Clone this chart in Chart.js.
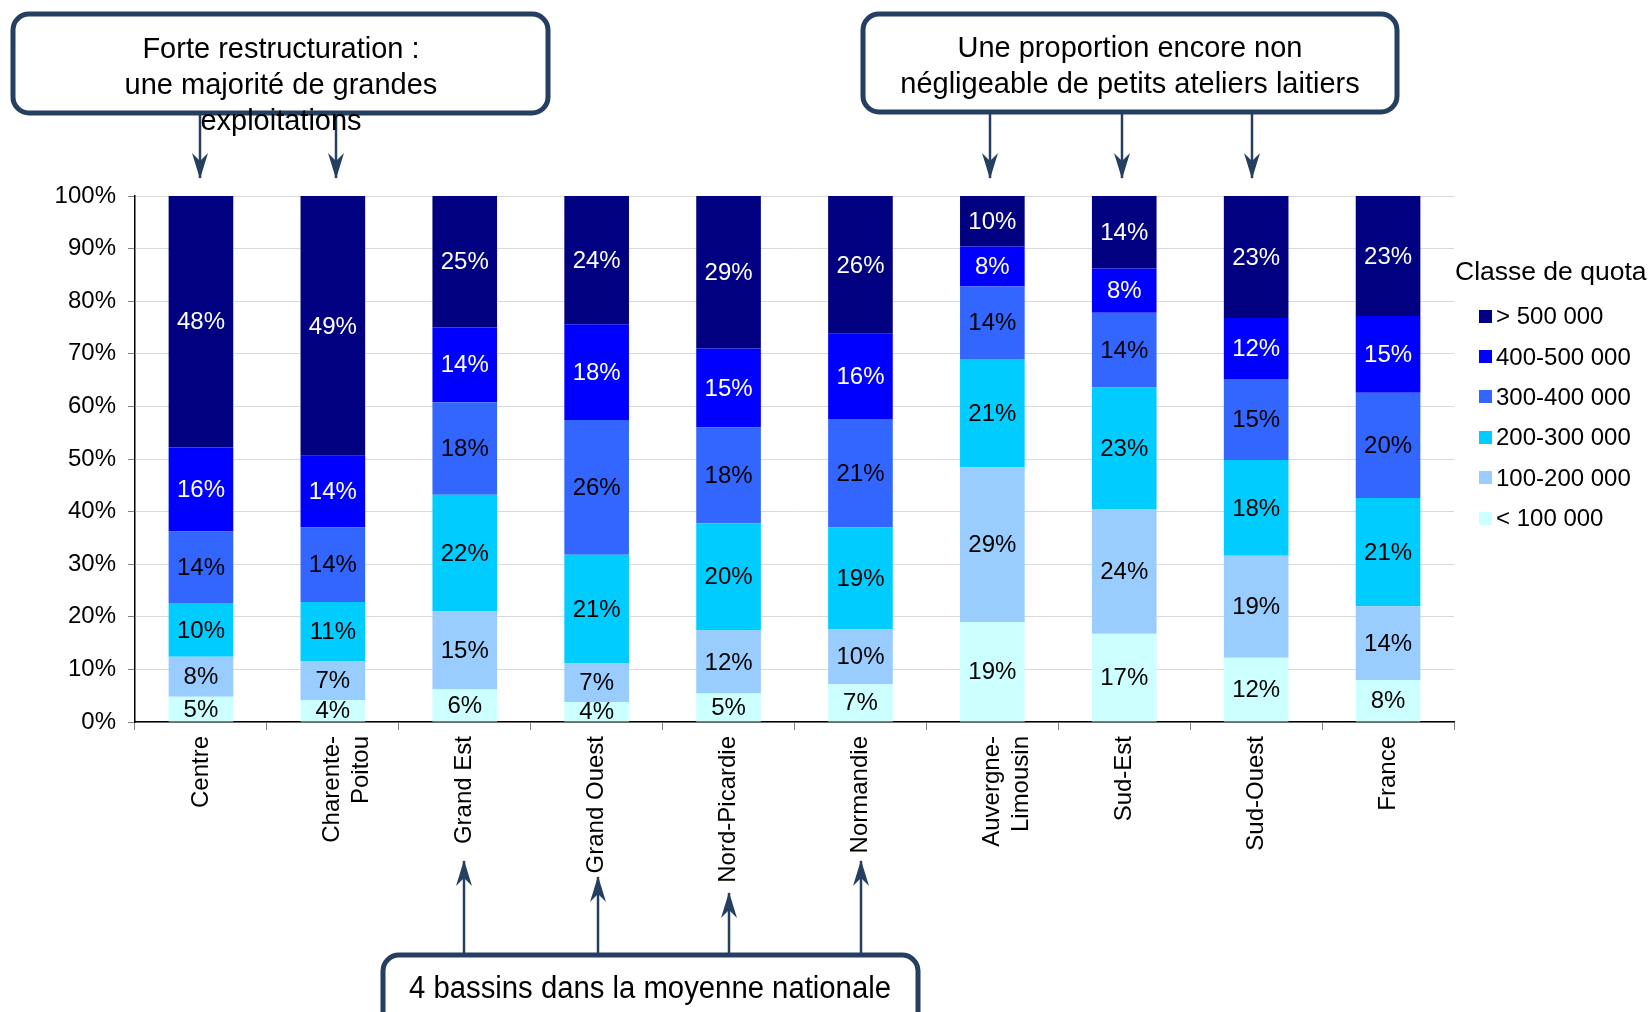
<!DOCTYPE html>
<html>
<head>
<meta charset="utf-8">
<script src="https://cdn.jsdelivr.net/npm/chart.js@4.4.1/dist/chart.umd.min.js"></script>
<style>
  body { margin: 0; background: #fff; font-family: "Liberation Sans", Arial, sans-serif; }
  #wrap { position: relative; width: 1651px; height: 1012px; overflow: hidden; }
  #chart { position: absolute; left: 0; top: 0; }
  #overlay { position: absolute; left: 0; top: 0; pointer-events: none; }
  #legend { position: absolute; left: 1455px; top: 255px; color: #000; }
  #legend .title { font-size: 26.5px; line-height: 32px; margin-bottom: 9px; }
  #legend .item { display: flex; align-items: center; height: 40.4px; font-size: 24px; padding-left: 24px; }
  #legend .box { width: 13px; height: 13px; margin-right: 4px; }
</style>
</head>
<body>
<div id="wrap">
  <canvas id="chart" width="1651" height="1012"></canvas>
  <div id="legend"></div>
  <svg id="overlay" width="1651" height="1012" font-family="Liberation Sans, Arial, sans-serif">
    <defs>
      <marker id="head" viewBox="0 0 26 16" refX="25" refY="8" markerWidth="26" markerHeight="16" markerUnits="userSpaceOnUse" orient="auto">
        <path d="M0,0 L26,8 L0,16 L8,8 Z" fill="#243F60"/>
      </marker>
    </defs>
    <g id="callouts"></g>
  </svg>
</div>
<script>
// categories (bassins laitiers)
const categories = ['Centre', ['Charente-', 'Poitou'], 'Grand Est', 'Grand Ouest', 'Nord-Picardie',
    'Normandie', ['Auvergne-', 'Limousin'], 'Sud-Est', 'Sud-Ouest', 'France'];

// parts (%) by quota class, bottom of the stack first
const below100 = [4.8, 4.2, 6.2, 3.8, 5.4, 7.2, 19.0, 16.8, 12.2, 8.0];
const from100to200 = [7.6, 7.4, 14.8, 7.4, 12.0, 10.4, 29.4, 23.6, 19.4, 14.0];
const from200to300 = [10.2, 11.2, 22.2, 20.6, 20.4, 19.4, 20.6, 23.2, 18.2, 20.6];
const from300to400 = [13.6, 14.2, 17.6, 25.6, 18.2, 20.6, 13.8, 14.2, 15.4, 20.0];
const from400to500 = [16.0, 13.6, 14.2, 18.2, 15.0, 16.2, 7.6, 8.4, 11.6, 14.6];
const above500 = [47.8, 49.4, 25.0, 24.4, 29.0, 26.2, 9.6, 13.8, 23.2, 22.8];

const seriesNames = ['< 100 000', '100-200 000', '200-300 000', '300-400 000', '400-500 000', '> 500 000'];
const seriesValues = [below100, from100to200, from200to300, from300to400, from400to500, above500];
const seriesColors = ['#CCFFFF', '#99CCFF', '#00CCFF', '#3366FF', '#0000FF', '#000080'];
const labelColors = ['#000', '#000', '#000', '#000', '#fff', '#fff'];

const yTicks = [0, 10, 20, 30, 40, 50, 60, 70, 80, 90, 100];

const FONT = 'Liberation Sans';

// étiquettes de valeur au centre de chaque segment
const segmentLabels = {
    id: 'segmentLabels',
    afterDatasetsDraw(chart) {
        const ctx = chart.ctx;
        ctx.save();
        ctx.font = '24px "' + FONT + '"';
        ctx.textAlign = 'center';
        ctx.textBaseline = 'middle';
        chart.data.datasets.forEach((ds, i) => {
            const meta = chart.getDatasetMeta(i);
            ctx.fillStyle = labelColors[i];
            meta.data.forEach((bar, j) => {
                const y = (bar.y + bar.base) / 2;
                ctx.fillText(Math.round(ds.data[j]) + '%', bar.x, y + 1);
            });
        });
        ctx.restore();
    }
};

function initChart() {
    const ctx = document.getElementById('chart').getContext('2d');
    new Chart(ctx, {
        type: 'bar',
        data: {
            labels: categories,
            datasets: seriesValues.map((vals, i) => ({
                label: seriesNames[i],
                data: vals,
                backgroundColor: seriesColors[i],
                borderWidth: 0,
                barPercentage: 0.49,
                categoryPercentage: 1
            }))
        },
        options: {
            responsive: false,
            animation: false,
            layout: { padding: { top: 196, right: 197, left: 0, bottom: 0 } },
            plugins: {
                legend: { display: false },
                tooltip: { enabled: false }
            },
            scales: {
                x: {
                    stacked: true,
                    offset: true,
                    grid: {
                        offset: true,
                        drawOnChartArea: false,
                        drawTicks: true,
                        tickLength: 8,
                        color: '#808080'
                    },
                    border: { display: true, color: '#000', width: 1.5 },
                    ticks: {
                        color: '#000',
                        font: { family: FONT, size: 24 },
                        minRotation: 90,
                        maxRotation: 90,
                        autoSkip: false,
                        padding: 6
                    },
                    afterFit(scale) { scale.height = 290; }
                },
                y: {
                    stacked: true,
                    min: 0,
                    max: 100,
                    afterBuildTicks(scale) { scale.ticks = yTicks.map(v => ({ value: v })); },
                    grid: {
                        color: '#d9d9d9',
                        tickColor: '#808080',
                        tickLength: 7,
                        lineWidth: 1
                    },
                    border: { display: true, color: '#000', width: 1.5 },
                    ticks: {
                        color: '#000',
                        font: { family: FONT, size: 24 },
                        padding: 12,
                        callback: v => v + '%'
                    },
                    afterFit(scale) { scale.width = 135; }
                }
            }
        },
        plugins: [segmentLabels]
    });
}

function buildLegend() {
    const el = document.getElementById('legend');
    let html = '<div class="title">Classe de quota</div>';
    for (let i = seriesNames.length - 1; i >= 0; i--) {
        html += '<div class="item"><span class="box" style="background:' + seriesColors[i] + '"></span>' +
            seriesNames[i] + '</div>';
    }
    el.innerHTML = html;
}

// encadrés de commentaire et flèches
function buildCallouts() {
    const g = document.getElementById('callouts');
    const NS = 'http://www.w3.org/2000/svg';
    const stroke = '#243F60';

    function arrow(x1, y1, x2, y2) {
        const l = document.createElementNS(NS, 'line');
        l.setAttribute('x1', x1); l.setAttribute('y1', y1);
        l.setAttribute('x2', x2); l.setAttribute('y2', y2);
        l.setAttribute('stroke', stroke);
        l.setAttribute('stroke-width', 2.5);
        l.setAttribute('marker-end', 'url(#head)');
        g.appendChild(l);
    }
    function box(x, y, w, h) {
        const r = document.createElementNS(NS, 'rect');
        r.setAttribute('x', x); r.setAttribute('y', y);
        r.setAttribute('width', w); r.setAttribute('height', h);
        r.setAttribute('rx', 16); r.setAttribute('ry', 16);
        r.setAttribute('fill', '#fff');
        r.setAttribute('stroke', stroke);
        r.setAttribute('stroke-width', 5);
        g.appendChild(r);
    }
    function text(str, x, y, size, len) {
        const t = document.createElementNS(NS, 'text');
        t.setAttribute('x', x); t.setAttribute('y', y);
        t.setAttribute('text-anchor', 'middle');
        t.setAttribute('dominant-baseline', 'central');
        t.setAttribute('font-size', size);
        t.setAttribute('fill', '#000');
        if (len) {
            t.setAttribute('textLength', len);
            t.setAttribute('lengthAdjust', 'spacingAndGlyphs');
        }
        t.textContent = str;
        g.appendChild(t);
    }

    // haut gauche
    arrow(200, 112, 200, 178);
    arrow(336, 112, 336, 178);
    box(13, 14, 535, 99);
    text('Forte restructuration :', 281, 48, 29);
    text('une majorité de grandes', 281, 84, 29);
    text('exploitations', 281, 120, 29);

    // haut droite
    arrow(990, 112, 990, 178);
    arrow(1122, 112, 1122, 178);
    arrow(1252, 112, 1252, 178);
    box(863, 14, 534, 98);
    text('Une proportion encore non', 1130, 47, 29);
    text('négligeable de petits ateliers laitiers', 1130, 83, 29);

    // bas
    arrow(464, 954, 464, 861);
    arrow(598, 954, 598, 877);
    arrow(729, 954, 729, 893);
    arrow(861, 954, 861, 861);
    box(383, 955, 535, 80);
    text('4 bassins dans la moyenne nationale', 650, 987, 31, 482);
}

function init() {
    initChart();
    buildLegend();
    buildCallouts();
}

if (document.readyState === 'loading') {
    document.addEventListener('DOMContentLoaded', init);
} else {
    init();
}
</script>
</body>
</html>
